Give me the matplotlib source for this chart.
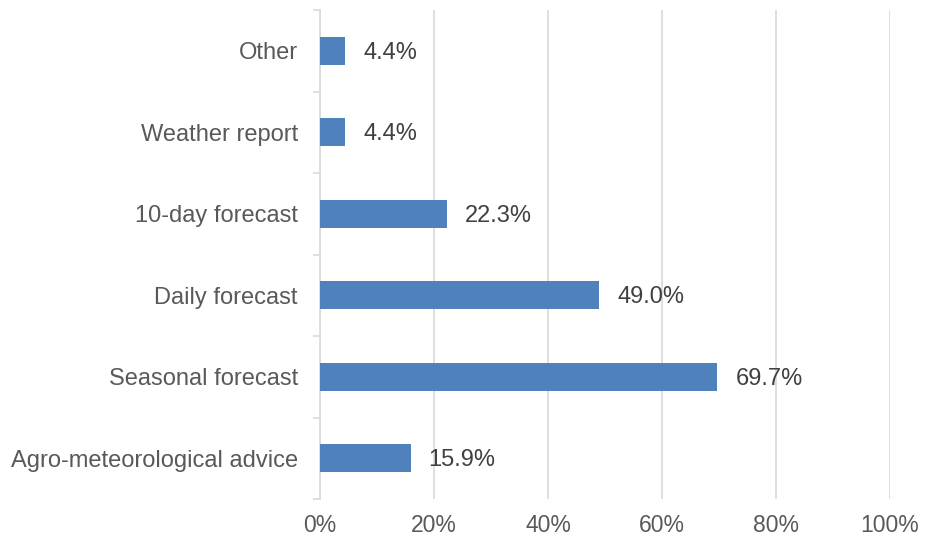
import matplotlib.pyplot as plt
import numpy as np

categories = ['Agro-meteorological advice', 'Seasonal forecast', 'Daily forecast',
              '10-day forecast', 'Weather report', 'Other']
values = [15.9, 69.7, 49.0, 22.3, 4.4, 4.4]
xticks = [0, 20, 40, 60, 80, 100]

plt.rcParams['font.family'] = ['Liberation Sans', 'DejaVu Sans']

fig = plt.figure(figsize=(9.31, 5.41), dpi=100)
ax = fig.add_axes([0.3437, 0.0776, 0.6123, 0.9039])

y = np.arange(len(categories))
ax.barh(y, values, height=0.344, color='#4F81BD', zorder=3)

for yi, v in zip(y, values):
    ax.annotate(f'{v:.1f}%', (v, yi), xytext=(13, -1.5), textcoords='offset points',
                ha='left', va='center', fontsize=17, color='#404040')

ax.set_xlim(0, 100)
ax.set_ylim(-0.5, len(categories) - 0.5)
ax.set_xticks(xticks)
ax.set_xticklabels([f'{t}%' for t in xticks], fontsize=16.5, color='#595959')
ax.tick_params(axis='x', length=0, pad=11)

ax.set_yticks(y)
ax.set_yticklabels(categories, fontsize=17, color='#595959')
ax.tick_params(axis='y', which='major', length=0, pad=16)
ax.set_yticks(np.arange(-0.5, len(categories)), minor=True)
ax.tick_params(axis='y', which='minor', length=5, color='#D9D9D9', width=1.2)

ax.grid(axis='x', color='#D9D9D9', linewidth=1.2, zorder=0)
for s in ['top', 'right', 'bottom']:
    ax.spines[s].set_visible(False)
ax.spines['left'].set_color('#D9D9D9')
ax.spines['left'].set_linewidth(1.2)

fig.savefig('out.png', dpi=100)
